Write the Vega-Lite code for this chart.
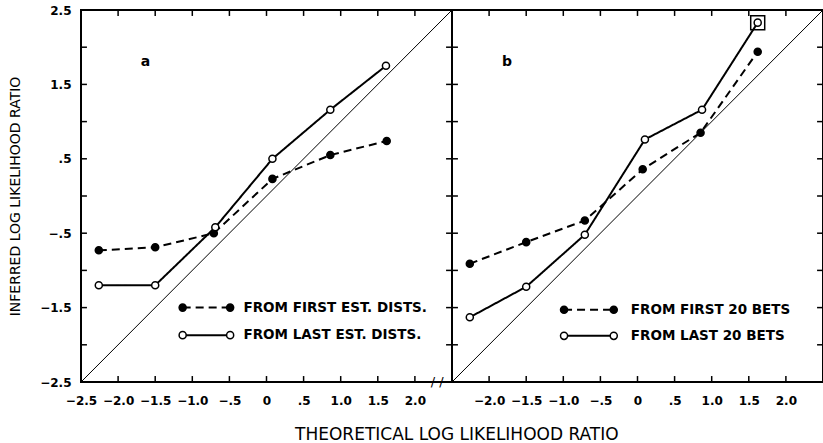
{
  "$schema": "https://vega.github.io/schema/vega-lite/v6.json",
  "background": "white",
  "padding": {"left": 7, "top": 3, "right": 1, "bottom": 2},
  "spacing": 0,
  "bounds": "flush",
  "config": {
    "view": {"stroke": "black", "strokeWidth": 2},
    "font": "DejaVu Sans",
    "axis": {"domain": false, "grid": false, "ticks": false, "labelOverlap": false, "labelFlush": false, "labelColor": "black", "labelFont": "DejaVu Sans", "labelFontSize": 12, "labelFontWeight": "bold", "titleColor": "black"}
  },
  "title": {"text": "THEORETICAL LOG LIKELIHOOD RATIO", "orient": "bottom", "anchor": "middle", "fontSize": 17, "fontWeight": "normal", "font": "DejaVu Sans", "color": "black", "offset": 20, "dx": 40},
  "datasets": {
    "diag": [{"x": -2.5, "y": -2.5}, {"x": 2.5, "y": 2.5}],
    "tickv": [{"v": -2.0}, {"v": -1.5}, {"v": -1.0}, {"v": -0.5}, {"v": 0.0}, {"v": 0.5}, {"v": 1.0}, {"v": 1.5}, {"v": 2.0}],
    "a": [
      {"grp": "data", "series": "first", "x": -2.26, "y": -0.73},
      {"grp": "data", "series": "first", "x": -1.50, "y": -0.69},
      {"grp": "data", "series": "first", "x": -0.71, "y": -0.50},
      {"grp": "data", "series": "first", "x": 0.08, "y": 0.23},
      {"grp": "data", "series": "first", "x": 0.86, "y": 0.55},
      {"grp": "data", "series": "first", "x": 1.62, "y": 0.74},
      {"grp": "data", "series": "last", "x": -2.26, "y": -1.20},
      {"grp": "data", "series": "last", "x": -1.50, "y": -1.20},
      {"grp": "data", "series": "last", "x": -0.69, "y": -0.42},
      {"grp": "data", "series": "last", "x": 0.08, "y": 0.50},
      {"grp": "data", "series": "last", "x": 0.86, "y": 1.16},
      {"grp": "data", "series": "last", "x": 1.61, "y": 1.75},
      {"grp": "legend", "series": "first", "x": -1.13, "y": -1.50},
      {"grp": "legend", "series": "first", "x": -0.49, "y": -1.50},
      {"grp": "legend", "series": "last", "x": -1.13, "y": -1.87},
      {"grp": "legend", "series": "last", "x": -0.49, "y": -1.87}
    ],
    "b": [
      {"grp": "data", "series": "first", "x": -2.26, "y": -0.91},
      {"grp": "data", "series": "first", "x": -1.50, "y": -0.62},
      {"grp": "data", "series": "first", "x": -0.71, "y": -0.33},
      {"grp": "data", "series": "first", "x": 0.07, "y": 0.36},
      {"grp": "data", "series": "first", "x": 0.85, "y": 0.85},
      {"grp": "data", "series": "first", "x": 1.62, "y": 1.94},
      {"grp": "data", "series": "last", "x": -2.26, "y": -1.63},
      {"grp": "data", "series": "last", "x": -1.50, "y": -1.22},
      {"grp": "data", "series": "last", "x": -0.71, "y": -0.52},
      {"grp": "data", "series": "last", "x": 0.10, "y": 0.76},
      {"grp": "data", "series": "last", "x": 0.87, "y": 1.16},
      {"grp": "data", "series": "last", "x": 1.62, "y": 2.33},
      {"grp": "legend", "series": "first", "x": -0.99, "y": -1.53},
      {"grp": "legend", "series": "first", "x": -0.32, "y": -1.53},
      {"grp": "legend", "series": "last", "x": -0.99, "y": -1.88},
      {"grp": "legend", "series": "last", "x": -0.32, "y": -1.88}
    ],
    "txtA": [
      {"x": -0.31, "y": -1.50, "text": "FROM FIRST EST. DISTS."},
      {"x": -0.31, "y": -1.87, "text": "FROM LAST EST. DISTS."}
    ],
    "txtB": [
      {"x": -0.09, "y": -1.53, "text": "FROM FIRST 20 BETS"},
      {"x": -0.09, "y": -1.88, "text": "FROM LAST 20 BETS"}
    ],
    "lblA": [{"x": -1.63, "y": 1.80, "text": "a"}],
    "lblB": [{"x": -1.76, "y": 1.80, "text": "b"}],
    "brk": [{"x": 2.3, "y": -2.5, "text": "/ /"}],
    "box": [{"x": 1.62, "y": 2.33}]
  },
  "hconcat": [
    {
      "width": 371,
      "height": 372,
      "layer": [
        {
          "data": {"name": "diag"},
          "mark": {"type": "line", "color": "black", "strokeWidth": 1},
          "encoding": {
            "x": {"field": "x", "type": "quantitative", "scale": {"domain": [-2.5, 2.5], "nice": false, "zero": false},
              "axis": {"orient": "bottom", "title": null, "values": [-2.5, -2, -1.5, -1, -0.5, 0, 0.5, 1, 1.5, 2], "labelPadding": 13, "labelExpr": "datum.value == 0 ? '0' : replace(format(datum.value, '.1f'), '0.', '.')"}},
            "y": {"field": "y", "type": "quantitative", "scale": {"domain": [-2.5, 2.5], "nice": false, "zero": false},
              "axis": {"orient": "left", "title": "INFERRED LOG LIKELIHOOD RATIO", "titleFontSize": 14, "titleFontWeight": "normal", "titlePadding": 17, "values": [-2.5, -2, -1.5, -1, -0.5, 0, 0.5, 1, 1.5, 2, 2.5], "labelPadding": 10, "labelExpr": "datum.value == 0 ? '0' : replace(format(datum.value, '.1f'), '0.', '.')"}}
          }
        },
        {
          "data": {"name": "tickv"},
          "mark": {"type": "rule", "color": "black", "strokeWidth": 1.5},
          "encoding": {"x": {"field": "v", "type": "quantitative"}, "y": {"datum": -2.5, "type": "quantitative"}, "y2": {"datum": -2.42}}
        },
        {
          "data": {"name": "tickv"},
          "mark": {"type": "rule", "color": "black", "strokeWidth": 1.5},
          "encoding": {"x": {"field": "v", "type": "quantitative"}, "y": {"datum": 2.5, "type": "quantitative"}, "y2": {"datum": 2.42}}
        },
        {
          "data": {"name": "tickv"},
          "mark": {"type": "rule", "color": "black", "strokeWidth": 1.5},
          "encoding": {"y": {"field": "v", "type": "quantitative"}, "x": {"datum": -2.5, "type": "quantitative"}, "x2": {"datum": -2.42}}
        },
        {
          "data": {"name": "tickv"},
          "mark": {"type": "rule", "color": "black", "strokeWidth": 1.5},
          "encoding": {"y": {"field": "v", "type": "quantitative"}, "x": {"datum": 2.5, "type": "quantitative"}, "x2": {"datum": 2.42}}
        },
        {
          "data": {"name": "a"},
          "mark": {"type": "line", "color": "black", "strokeWidth": 2},
          "encoding": {
            "x": {"field": "x", "type": "quantitative"},
            "y": {"field": "y", "type": "quantitative"},
            "detail": [{"field": "series"}, {"field": "grp"}],
            "strokeDash": {"field": "series", "type": "nominal", "scale": {"domain": ["first", "last"], "range": [[8, 5], [1, 0]]}, "legend": null}
          }
        },
        {
          "data": {"name": "a"},
          "mark": {"type": "point", "filled": true, "size": 50, "strokeWidth": 1.5, "opacity": 1, "shape": "circle", "stroke": "black"},
          "encoding": {
            "x": {"field": "x", "type": "quantitative"},
            "y": {"field": "y", "type": "quantitative"},
            "fill": {"field": "series", "type": "nominal", "scale": {"domain": ["first", "last"], "range": ["black", "white"]}, "legend": null}
          }
        },
        {
          "data": {"name": "txtA"},
          "mark": {"type": "text", "align": "left", "baseline": "middle", "fontSize": 13.5, "fontWeight": "bold", "font": "DejaVu Sans", "color": "black"},
          "encoding": {
            "x": {"field": "x", "type": "quantitative"},
            "y": {"field": "y", "type": "quantitative"},
            "text": {"field": "text"}
          }
        },
        {
          "data": {"name": "lblA"},
          "mark": {"type": "text", "align": "center", "baseline": "middle", "fontSize": 14, "fontWeight": "bold", "font": "DejaVu Sans", "color": "black"},
          "encoding": {
            "x": {"field": "x", "type": "quantitative"},
            "y": {"field": "y", "type": "quantitative"},
            "text": {"field": "text"}
          }
        },
        {
          "data": {"name": "brk"},
          "mark": {"type": "text", "align": "center", "baseline": "middle", "fontSize": 13, "font": "DejaVu Sans", "color": "black"},
          "encoding": {
            "x": {"field": "x", "type": "quantitative"},
            "y": {"field": "y", "type": "quantitative"},
            "text": {"field": "text"}
          }
        }
      ]
    },
    {
      "width": 371,
      "height": 372,
      "layer": [
        {
          "data": {"name": "diag"},
          "mark": {"type": "line", "color": "black", "strokeWidth": 1},
          "encoding": {
            "x": {"field": "x", "type": "quantitative", "scale": {"domain": [-2.5, 2.5], "nice": false, "zero": false},
              "axis": {"orient": "bottom", "title": null, "values": [-2, -1.5, -1, -0.5, 0, 0.5, 1, 1.5, 2], "labelPadding": 13, "labelExpr": "datum.value == 0 ? '0' : replace(format(datum.value, '.1f'), '0.', '.')"}},
            "y": {"field": "y", "type": "quantitative", "scale": {"domain": [-2.5, 2.5], "nice": false, "zero": false},
              "axis": {"orient": "left", "title": null, "labels": false, "values": [0]}}
          }
        },
        {
          "data": {"name": "tickv"},
          "mark": {"type": "rule", "color": "black", "strokeWidth": 1.5},
          "encoding": {"x": {"field": "v", "type": "quantitative"}, "y": {"datum": -2.5, "type": "quantitative"}, "y2": {"datum": -2.42}}
        },
        {
          "data": {"name": "tickv"},
          "mark": {"type": "rule", "color": "black", "strokeWidth": 1.5},
          "encoding": {"x": {"field": "v", "type": "quantitative"}, "y": {"datum": 2.5, "type": "quantitative"}, "y2": {"datum": 2.42}}
        },
        {
          "data": {"name": "tickv"},
          "mark": {"type": "rule", "color": "black", "strokeWidth": 1.5},
          "encoding": {"y": {"field": "v", "type": "quantitative"}, "x": {"datum": -2.5, "type": "quantitative"}, "x2": {"datum": -2.42}}
        },
        {
          "data": {"name": "tickv"},
          "mark": {"type": "rule", "color": "black", "strokeWidth": 1.5},
          "encoding": {"y": {"field": "v", "type": "quantitative"}, "x": {"datum": 2.5, "type": "quantitative"}, "x2": {"datum": 2.42}}
        },
        {
          "data": {"name": "b"},
          "mark": {"type": "line", "color": "black", "strokeWidth": 2},
          "encoding": {
            "x": {"field": "x", "type": "quantitative"},
            "y": {"field": "y", "type": "quantitative"},
            "detail": [{"field": "series"}, {"field": "grp"}],
            "strokeDash": {"field": "series", "type": "nominal", "scale": {"domain": ["first", "last"], "range": [[8, 5], [1, 0]]}, "legend": null}
          }
        },
        {
          "data": {"name": "b"},
          "mark": {"type": "point", "filled": true, "size": 50, "strokeWidth": 1.5, "opacity": 1, "shape": "circle", "stroke": "black"},
          "encoding": {
            "x": {"field": "x", "type": "quantitative"},
            "y": {"field": "y", "type": "quantitative"},
            "fill": {"field": "series", "type": "nominal", "scale": {"domain": ["first", "last"], "range": ["black", "white"]}, "legend": null}
          }
        },
        {
          "data": {"name": "box"},
          "mark": {"type": "point", "shape": "square", "size": 196, "filled": false, "stroke": "black", "strokeWidth": 1.5, "opacity": 1},
          "encoding": {
            "x": {"field": "x", "type": "quantitative"},
            "y": {"field": "y", "type": "quantitative"}
          }
        },
        {
          "data": {"name": "txtB"},
          "mark": {"type": "text", "align": "left", "baseline": "middle", "fontSize": 13.5, "fontWeight": "bold", "font": "DejaVu Sans", "color": "black"},
          "encoding": {
            "x": {"field": "x", "type": "quantitative"},
            "y": {"field": "y", "type": "quantitative"},
            "text": {"field": "text"}
          }
        },
        {
          "data": {"name": "lblB"},
          "mark": {"type": "text", "align": "center", "baseline": "middle", "fontSize": 14, "fontWeight": "bold", "font": "DejaVu Sans", "color": "black"},
          "encoding": {
            "x": {"field": "x", "type": "quantitative"},
            "y": {"field": "y", "type": "quantitative"},
            "text": {"field": "text"}
          }
        }
      ]
    }
  ]
}
